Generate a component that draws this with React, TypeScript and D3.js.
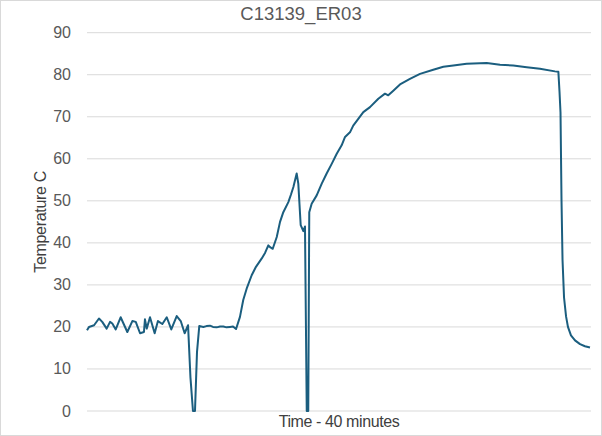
import React from "react";
import * as d3 from "d3";

const title = "C13139_ER03";
const xTitle = "Time - 40 minutes";
const yTitle = "Temperature C";
const yTicks = [0, 10, 20, 30, 40, 50, 60, 70, 80, 90];

// time in minutes
const times = [
  0.0, 0.16, 0.56, 0.95, 1.21, 1.56, 1.83, 2.01, 2.28, 2.67, 3.2, 3.6, 3.87, 4.21, 4.52, 4.6, 4.74, 5.0, 5.37, 5.63,
  5.98, 6.33, 6.69, 7.12, 7.44, 7.75, 8.02, 8.21, 8.41, 8.57, 8.73, 8.91, 9.23, 9.48, 9.76, 10.0, 10.29, 10.56, 10.82,
  11.07, 11.35, 11.59, 11.83, 12.14, 12.4, 12.67, 13.07, 13.41, 13.87, 14.13, 14.39, 14.56, 14.74, 15.06, 15.32, 15.58,
  15.98, 16.19, 16.38, 16.64, 16.77, 16.96, 17.17, 17.3, 17.44, 17.56, 17.64, 17.83, 18.23, 18.63, 19.02, 19.42, 19.82,
  20.21, 20.48, 20.87, 21.13, 21.53, 21.93, 22.46, 23.12, 23.65, 23.91, 24.31, 24.84, 25.63, 26.43, 27.48, 28.28, 29.07,
  30.13, 31.72, 32.78, 33.83, 34.9, 35.95, 37.14, 37.41, 37.5, 37.58, 37.66, 37.74, 37.86, 38.02, 38.17, 38.41, 38.73,
  39.13, 39.52, 39.92,
];
const temps = [
  19.2, 20.0, 20.4, 22.0, 21.2, 19.6, 21.2, 20.8, 19.4, 22.3, 18.8, 21.4, 21.2, 18.5, 18.8, 21.8, 19.6, 22.3, 18.5, 21.4,
  20.7, 22.3, 19.4, 22.6, 21.4, 18.5, 20.4, 8, 0, 0, 14, 20.2, 20.0, 20.2, 20.3, 20.0, 19.9, 20.1, 20.1,
  19.9, 20.0, 20.1, 19.5, 22.4, 26.4, 29.1, 32.3, 34.3, 36.3, 37.6, 39.4, 38.9, 38.6, 41.4, 45.0, 47.3,
  49.7, 51.5, 53.3, 56.5, 54.1, 44.2, 42.8, 43.9, 0, 0, 47.3, 49.3, 51.3, 54.1, 56.5, 58.8, 61.2,
  63.2, 65.2, 66.3, 67.9, 69.5, 71.1, 72.3, 74.3, 75.5, 75.1, 76.2, 77.7, 79.0, 80.2, 81.2, 81.9, 82.2,
  82.6, 82.8, 82.4, 82.2, 81.8, 81.4, 80.8, 80.7, 76, 71, 50, 36, 27, 22.5, 20, 18, 16.8,
  15.9, 15.4, 15.1,
];

export default function App() {
  const W = 602;
  const H = 436;
  const left = 87;
  const right = 591;
  const top = 32.7;
  const bottom = 411;

  const x = d3.scaleLinear().domain([0, 40]).range([left, right]);
  const y = d3.scaleLinear().domain([0, 90]).range([bottom, top]);

  const data = times.map((t, i) => ({ t, v: temps[i] }));
  const line = d3
    .line<{ t: number; v: number }>()
    .x((d) => x(d.t))
    .y((d) => y(d.v));

  const font = "'Liberation Sans', Arial, sans-serif";
  const textColor = "#595959";
  const titleColor = "#404040";

  return (
    <svg
      width={W}
      height={H}
      style={{ position: "absolute", left: 0, top: 0, background: "#fff" }}
      fontFamily={font}
    >
      <rect x={0.5} y={0.5} width={W - 1} height={H - 1} fill="#fff" stroke="#d9d9d9" />
      {yTicks.map((t) => (
        <g key={t}>
          <line x1={left} x2={right} y1={y(t)} y2={y(t)} stroke="#d9d9d9" strokeWidth={1} />
          <text
            x={71}
            y={y(t)}
            textAnchor="end"
            dominantBaseline="central"
            fontSize={16}
            fill={textColor}
          >
            {t}
          </text>
        </g>
      ))}
      <path d={line(data) || ""} fill="none" stroke="#1b5e7f" strokeWidth={2} strokeLinejoin="round" />
      <text x={W / 2} y={13} textAnchor="middle" dominantBaseline="central" fontSize={18.5} fill={textColor}>
        {title}
      </text>
      <text
        x={(left + right) / 2}
        y={421.5}
        textAnchor="middle"
        dominantBaseline="central"
        fontSize={16}
        letterSpacing={-0.4}
        fill={titleColor}
      >
        {xTitle}
      </text>
      <text
        transform={`translate(40, ${(top + bottom) / 2}) rotate(-90)`}
        textAnchor="middle"
        dominantBaseline="central"
        fontSize={16}
        letterSpacing={-0.3}
        fill={titleColor}
      >
        {yTitle}
      </text>
    </svg>
  );
}
